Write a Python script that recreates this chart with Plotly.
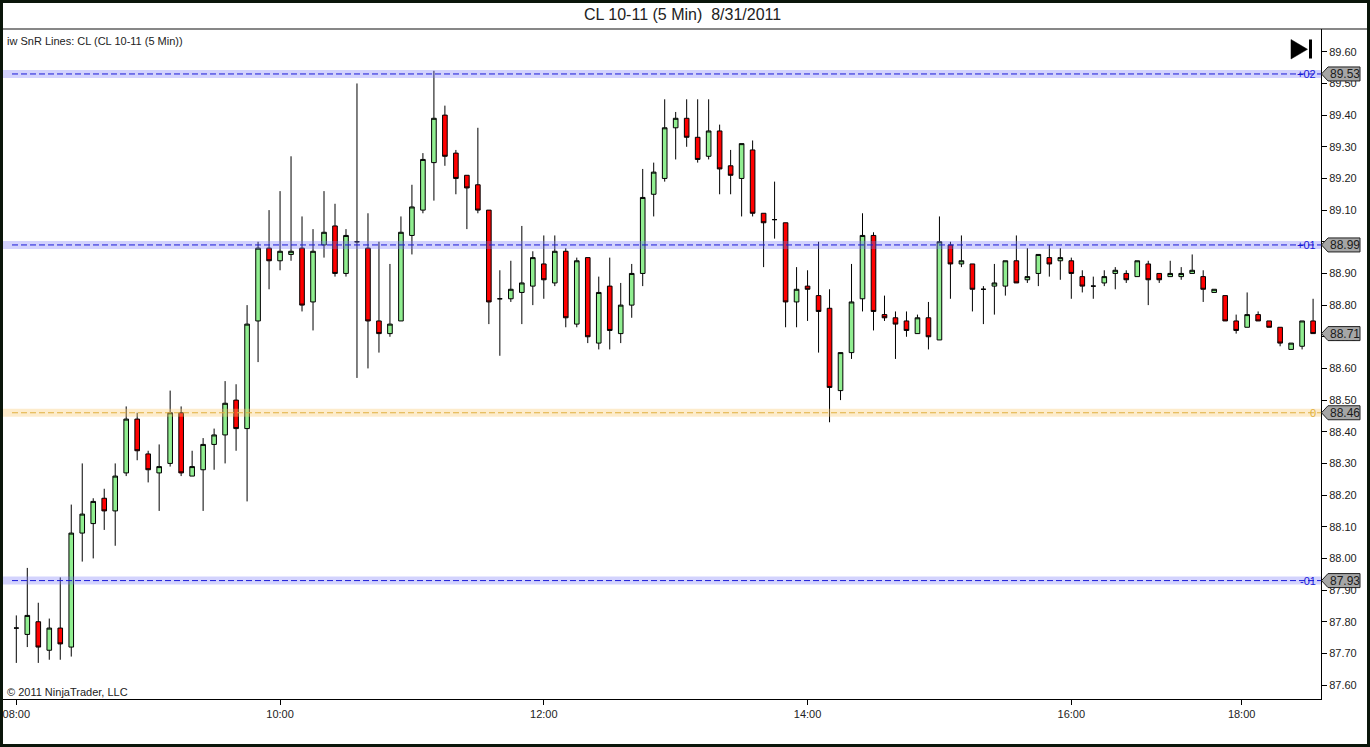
import plotly.graph_objects as go

# ---------------- data ----------------
opens = [87.78, 87.76, 87.80, 87.71, 87.78, 87.72, 88.08, 88.11, 88.19, 88.15,
         88.27, 88.44, 88.33, 88.27, 88.30, 88.46, 88.26, 88.28, 88.36, 88.39,
         88.50, 88.41, 88.75, 88.98, 88.94, 88.96, 88.98, 88.81, 88.99, 89.05,
         88.90, 89.00, 88.98, 88.75, 88.71, 88.75, 89.02, 89.10, 89.25, 89.40,
         89.28, 89.21, 89.18, 89.10, 88.82, 88.82, 88.84, 88.86, 88.93, 88.87,
         88.97, 88.74, 88.95, 88.68, 88.86, 88.71, 88.80, 88.90, 89.15, 89.20,
         89.36, 89.39, 89.33, 89.27, 89.35, 89.24, 89.20, 89.29, 89.09, 89.07,
         89.06, 88.81, 88.86, 88.83, 88.79, 88.53, 88.65, 88.82, 89.02, 88.77,
         88.76, 88.75, 88.71, 88.76, 88.69, 88.99, 88.93, 88.93, 88.85, 88.86,
         88.86, 88.94, 88.88, 88.90, 88.95, 88.94, 88.94, 88.89, 88.86, 88.87,
         88.90, 88.90, 88.89, 88.93, 88.90, 88.89, 88.89, 88.90, 88.89, 88.84,
         88.83, 88.75, 88.73, 88.77, 88.75, 88.73, 88.66, 88.67, 88.75]
highs = [87.82, 87.97, 87.86, 87.81, 87.94, 88.17, 88.30, 88.19, 88.22, 88.30,
         88.48, 88.46, 88.34, 88.36, 88.53, 88.48, 88.34, 88.38, 88.41, 88.56,
         88.55, 88.80, 89.00, 89.10, 89.16, 89.27, 89.08, 89.04, 89.16, 89.12,
         89.04, 89.50, 89.09, 89.00, 88.93, 89.08, 89.18, 89.28, 89.54, 89.43,
         89.29, 89.21, 89.36, 89.10, 88.91, 88.94, 89.05, 88.97, 89.02, 89.02,
         88.98, 88.95, 88.95, 88.89, 88.95, 88.87, 88.93, 89.23, 89.25, 89.45,
         89.41, 89.45, 89.45, 89.45, 89.37, 89.29, 89.31, 89.32, 89.09, 89.19,
         89.06, 88.92, 88.91, 89.00, 88.85, 88.65, 88.93, 89.09, 89.03, 88.83,
         88.78, 88.78, 88.77, 88.81, 89.08, 89.00, 89.02, 88.93, 88.86, 88.93,
         88.94, 89.02, 88.98, 88.96, 88.99, 88.98, 88.95, 88.91, 88.89, 88.91,
         88.92, 88.91, 88.94, 88.94, 88.90, 88.94, 88.92, 88.96, 88.91, 88.85,
         88.83, 88.77, 88.84, 88.78, 88.75, 88.73, 88.68, 88.75, 88.82]
lows = [87.67, 87.72, 87.67, 87.68, 87.68, 87.69, 87.99, 88.00, 88.09, 88.04,
        88.26, 88.31, 88.24, 88.15, 88.29, 88.26, 88.26, 88.15, 88.28, 88.30,
        88.34, 88.18, 88.62, 88.85, 88.91, 88.94, 88.78, 88.72, 88.95, 88.89,
        88.89, 88.57, 88.60, 88.65, 88.70, 88.75, 88.96, 89.09, 89.13, 89.24,
        89.15, 89.04, 89.09, 88.74, 88.64, 88.81, 88.74, 88.80, 88.82, 88.86,
        88.73, 88.73, 88.68, 88.66, 88.66, 88.68, 88.76, 88.86, 89.08, 89.19,
        89.26, 89.30, 89.25, 89.26, 89.15, 89.15, 89.08, 89.08, 88.92, 89.01,
        88.73, 88.73, 88.75, 88.65, 88.43, 88.50, 88.63, 88.78, 88.72, 88.75,
        88.63, 88.70, 88.71, 88.66, 88.69, 88.82, 88.92, 88.78, 88.74, 88.77,
        88.83, 88.87, 88.87, 88.86, 88.89, 88.88, 88.82, 88.84, 88.82, 88.86,
        88.85, 88.87, 88.89, 88.80, 88.87, 88.89, 88.88, 88.90, 88.81, 88.84,
        88.75, 88.71, 88.73, 88.75, 88.73, 88.67, 88.66, 88.66, 88.71]
closes = [87.78, 87.82, 87.72, 87.78, 87.73, 88.08, 88.14, 88.18, 88.15, 88.26,
          88.44, 88.34, 88.28, 88.29, 88.46, 88.27, 88.29, 88.36, 88.39, 88.49,
          88.41, 88.74, 88.98, 88.94, 88.97, 88.97, 88.80, 88.97, 89.03, 88.90,
          89.02, 89.00, 88.75, 88.71, 88.74, 89.03, 89.11, 89.26, 89.39, 89.27,
          89.20, 89.17, 89.10, 88.81, 88.82, 88.85, 88.87, 88.95, 88.88, 88.97,
          88.76, 88.94, 88.70, 88.84, 88.72, 88.80, 88.90, 89.14, 89.22, 89.36,
          89.39, 89.33, 89.26, 89.35, 89.23, 89.21, 89.31, 89.09, 89.06, 89.07,
          88.81, 88.85, 88.85, 88.78, 88.54, 88.65, 88.81, 89.02, 88.78, 88.76,
          88.74, 88.72, 88.76, 88.70, 89.00, 88.93, 88.94, 88.85, 88.85, 88.87,
          88.94, 88.87, 88.89, 88.96, 88.93, 88.95, 88.90, 88.86, 88.86, 88.89,
          88.91, 88.88, 88.94, 88.88, 88.88, 88.90, 88.90, 88.91, 88.85, 88.85,
          88.75, 88.72, 88.77, 88.75, 88.73, 88.68, 88.68, 88.75, 88.71]

# bar close times (session break 17:15 -> 18:05)
bar_times = ["%02d:%02d" % (8 + (5 * i) // 60, (5 * i) % 60) for i in range(112)] + \
            ["18:05", "18:10", "18:15", "18:20", "18:25", "18:30", "18:35"]
tick_labels = ["08:00", "10:00", "12:00", "14:00", "16:00", "18:00"]

level_values = [89.53, 88.99, 88.46, 87.93]
level_names = ["+02", "+01", "0", "-01"]
level_kind = ["r", "r", "p", "s"]

title_text = "CL 10-11 (5 Min)  8/31/2011"
indicator_text = "iw SnR Lines: CL (CL 10-11 (5 Min))"
copyright_text = "© 2011 NinjaTrader, LLC"

# ---------------- layout helpers ----------------
W, H = 1370, 747
ML, MR, MT, MB = 3, 49, 29, 48
PW, PH = W - ML - MR, H - MT - MB
FONT = "Liberation Sans, Arial, sans-serif"
YR = [87.556, 89.672]


def xp(px):
    return (px - ML) / PW


def yp(py):
    return (H - MB - py) / PH


x_idx = list(range(len(opens)))


def tick_pos(label):
    if label in bar_times:
        return bar_times.index(label)
    for j, t in enumerate(bar_times):
        if t > label:
            return j - 0.5
    return len(bar_times) - 1


tick_vals = [tick_pos(t) for t in tick_labels]

fig = go.Figure()
fig.add_trace(go.Candlestick(
    x=x_idx, open=opens, high=highs, low=lows, close=closes,
    increasing=dict(fillcolor="#90EE90", line=dict(color="black", width=1)),
    decreasing=dict(fillcolor="#FF0000", line=dict(color="black", width=1)),
    whiskerwidth=0, showlegend=False, hoverinfo="skip",
))

shapes = []
annotations = []

band_col = {"r": "rgba(120,120,250,0.33)", "s": "rgba(120,120,250,0.33)", "p": "rgba(250,200,110,0.35)"}
line_col = {"r": "#1a1ad8", "s": "#1a1ad8", "p": "#e0b040"}

for v, name, k in zip(level_values, level_names, level_kind):
    shapes.append(dict(type="line", xref="paper", yref="y", x0=0, x1=1, y0=v, y1=v,
                       line=dict(color=band_col[k], width=8), layer="above"))
    shapes.append(dict(type="line", xref="paper", yref="y", x0=xp(12), x1=1, y0=v, y1=v,
                       line=dict(color=line_col[k], width=1, dash="6px,3px"), layer="above"))
    annotations.append(dict(text=name, xref="paper", yref="y", x=xp(1318), y=v,
                            xanchor="right", yanchor="middle", showarrow=False,
                            font=dict(family=FONT, size=11, color=line_col[k])))

# price tags on the axis
tag_values = level_values + [closes[-1]]
hh = 7 / PH * (YR[1] - YR[0])
for v in tag_values:
    x0, x1, x2 = xp(1321.5), xp(1328), xp(1360)
    path = "M %f,%f L %f,%f L %f,%f L %f,%f L %f,%f Z" % (
        x0, v, x1, v + hh, x2, v + hh, x2, v - hh, x1, v - hh)
    shapes.append(dict(type="path", xref="paper", yref="y", path=path,
                       fillcolor="#a6a6a6", line=dict(color="#202020", width=1), layer="above"))
    annotations.append(dict(text="%.2f" % v, xref="paper", yref="y", x=xp(1344.5), y=v,
                            xanchor="center", yanchor="middle", showarrow=False,
                            font=dict(family=FONT, size=12, color="#1a1a1a")))

# outer frame and title separator
shapes.append(dict(type="line", xref="paper", yref="paper", x0=xp(0), x1=xp(W), y0=1, y1=1,
                   line=dict(color="#111111", width=1.2), layer="above"))
shapes.append(dict(type="rect", xref="paper", yref="paper", x0=xp(1.5), x1=xp(W - 1.5),
                   y0=yp(H - 1.5), y1=yp(1.5), line=dict(color="#0a160a", width=3), layer="above"))

# "go to end" icon
shapes.append(dict(type="path", xref="paper", yref="paper",
                   path="M %f,%f L %f,%f L %f,%f Z" % (xp(1291), yp(39.5), xp(1291), yp(59), xp(1307.5), yp(49.3)),
                   fillcolor="black", line=dict(color="black", width=0.5), layer="above"))
shapes.append(dict(type="rect", xref="paper", yref="paper", x0=xp(1309), x1=xp(1312),
                   y0=yp(58.5), y1=yp(39.5), fillcolor="black", line=dict(width=0), layer="above"))

annotations.append(dict(text=title_text, xref="paper", yref="paper", x=xp(682), y=yp(15),
                        xanchor="center", yanchor="middle", showarrow=False,
                        font=dict(family=FONT, size=16, color="#222222")))
annotations.append(dict(text=indicator_text, xref="paper", yref="paper", x=xp(5), y=yp(41),
                        xanchor="left", yanchor="middle", showarrow=False,
                        font=dict(family=FONT, size=11, color="#222222")))
annotations.append(dict(text=copyright_text, xref="paper", yref="paper", x=xp(5), y=yp(692),
                        xanchor="left", yanchor="middle", showarrow=False,
                        font=dict(family=FONT, size=11, color="#222222")))

fig.update_layout(
    width=W, height=H,
    margin=dict(l=ML, r=MR, t=MT, b=MB, pad=0),
    paper_bgcolor="white", plot_bgcolor="white",
    showlegend=False, boxgap=0.4,
    shapes=shapes, annotations=annotations,
    font=dict(family=FONT, size=11, color="#222222"),
)
fig.update_xaxes(
    range=[-1.21, len(opens) - 1 + 0.72], rangeslider=dict(visible=False),
    tickmode="array", tickvals=tick_vals, ticktext=tick_labels,
    showgrid=False, zeroline=False, showline=True, linecolor="black", linewidth=1,
    ticks="outside", ticklen=5, tickcolor="black",
    tickfont=dict(family=FONT, size=11, color="#222222"),
)
fig.update_yaxes(
    range=YR, side="right", tickmode="linear", tick0=87.6, dtick=0.1,
    tickformat=".2f", showgrid=False, zeroline=False, showline=True,
    linecolor="black", linewidth=1, ticks="outside", ticklen=5, tickcolor="black",
    tickfont=dict(family=FONT, size=11, color="#222222"),
)

fig.write_html("out.html", config={"displayModeBar": False},
               post_script="document.body.style.margin='0';document.body.style.overflow='hidden';")
